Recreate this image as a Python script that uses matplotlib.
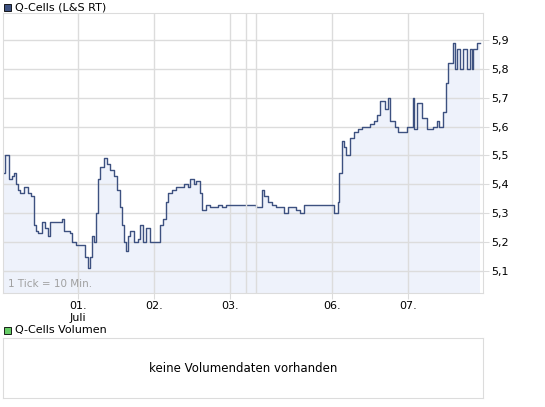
import matplotlib.pyplot as plt

# x in 10-minute ticks, price in EUR
tick = [0, 2, 5, 6, 9, 11, 13, 15, 17, 21, 25, 28, 31, 33, 35, 39, 42, 45, 47, 51, 55, 59, 61, 65, 67, 69, 73, 79, 82,
        85, 87, 89, 91, 93, 95, 97, 101, 104, 107, 111, 114, 117, 119, 121, 123, 125, 127, 131, 135, 137, 140, 143, 147,
        155, 157, 160, 163, 165, 169, 173, 177, 181, 185, 187, 191, 193, 197, 199, 203, 207, 211, 215, 219, 223, 229,
        237, 243, 247, 253, 259, 261, 265, 269, 273, 277, 281, 285, 289, 293, 297, 301, 307, 313, 319, 327, 331, 333,
        335, 336, 339, 341, 343, 347, 351, 355, 359, 363, 367, 371, 374, 377, 382, 385, 387, 392, 395, 399, 404, 405,
        410, 411, 414, 419, 424, 430, 434, 436, 440, 443, 445, 450, 452, 454, 457, 460, 464, 467, 469, 470, 474, 477]
price = [5.44, 5.50, 5.50, 5.42, 5.43, 5.44, 5.40, 5.38, 5.37, 5.39, 5.37, 5.36, 5.26, 5.24, 5.23, 5.27, 5.25, 5.22,
         5.27, 5.27, 5.27, 5.28, 5.24, 5.24, 5.23, 5.20, 5.19, 5.19, 5.15, 5.11, 5.15, 5.22, 5.20, 5.30, 5.42, 5.46,
         5.49, 5.47, 5.45, 5.43, 5.38, 5.32, 5.26, 5.20, 5.17, 5.22, 5.24, 5.20, 5.21, 5.26, 5.20, 5.25, 5.20, 5.20,
         5.26, 5.28, 5.34, 5.37, 5.38, 5.39, 5.39, 5.40, 5.39, 5.42, 5.40, 5.41, 5.37, 5.31, 5.33, 5.32, 5.32, 5.33,
         5.32, 5.33, 5.33, 5.33, 5.33, 5.33, 5.32, 5.38, 5.36, 5.34, 5.33, 5.32, 5.32, 5.30, 5.32, 5.32, 5.31, 5.30,
         5.33, 5.33, 5.33, 5.33, 5.33, 5.30, 5.30, 5.34, 5.44, 5.55, 5.53, 5.50, 5.56, 5.58, 5.59, 5.60, 5.60, 5.61,
         5.62, 5.64, 5.69, 5.66, 5.70, 5.62, 5.60, 5.58, 5.58, 5.60, 5.60, 5.70, 5.59, 5.68, 5.63, 5.59, 5.60, 5.62,
         5.60, 5.65, 5.75, 5.82, 5.89, 5.80, 5.87, 5.80, 5.87, 5.80, 5.87, 5.80, 5.87, 5.89, 5.89]
day_ticks = [75, 151, 227, 329, 405]
day_labels = ["01.\nJuli", "02.", "03.", "06.", "07."]
extra_lines = [243, 253]
y_ticks = [5.1, 5.2, 5.3, 5.4, 5.5, 5.6, 5.7, 5.8, 5.9]

W, H = 545, 407
fig = plt.figure(figsize=(W / 100, H / 100), dpi=100)
line_col = "#3d5180"
grid_col = "#dcdcdc"

ax = fig.add_axes([3 / W, 1 - 293 / H, 480 / W, 280 / H])
ax.fill_between(tick, price, 5.0, step="post", color="#eef2fb", lw=0)
ax.step(tick, price, where="post", color=line_col, lw=1)
ax.set_xlim(0, 480)
ax.set_ylim(5.024, 5.993)
ax.set_yticks(y_ticks)
ax.set_yticklabels([f"{v:.1f}".replace(".", ",") for v in y_ticks])
ax.yaxis.tick_right()
ax.set_xticks(day_ticks)
ax.set_xticklabels(day_labels)
ax.tick_params(length=4, color=grid_col, labelsize=8, pad=2)
ax.grid(True, color=grid_col, lw=1)
for x in extra_lines:
    ax.axvline(x, color=grid_col, lw=1)
for s in ax.spines.values():
    s.set_color(grid_col)
ax.text(0.01, 0.02, "1 Tick = 10 Min.", transform=ax.transAxes, fontsize=7.5, color="#a0a0a0")

fig.patches.append(plt.Rectangle((4 / W, 1 - 11 / H), 7 / W, 7 / H, transform=fig.transFigure,
                                 facecolor=line_col, edgecolor="black", lw=0.6))
fig.text(15 / W, 1 - 7 / H, "Q-Cells (L&S RT)", fontsize=8, va="center")

fig.patches.append(plt.Rectangle((4 / W, 1 - 334 / H), 7 / W, 7 / H, transform=fig.transFigure,
                                 facecolor="#66cc66", edgecolor="black", lw=0.6))
fig.text(15 / W, 1 - 330 / H, "Q-Cells Volumen", fontsize=8, va="center")

vax = fig.add_axes([3 / W, 1 - 398 / H, 480 / W, 60 / H])
vax.set_xticks([])
vax.set_yticks([])
for s in vax.spines.values():
    s.set_color(grid_col)
vax.text(0.5, 0.5, "keine Volumendaten vorhanden", transform=vax.transAxes, ha="center", va="center", fontsize=8.5)

fig.savefig("out.png", dpi=100)
